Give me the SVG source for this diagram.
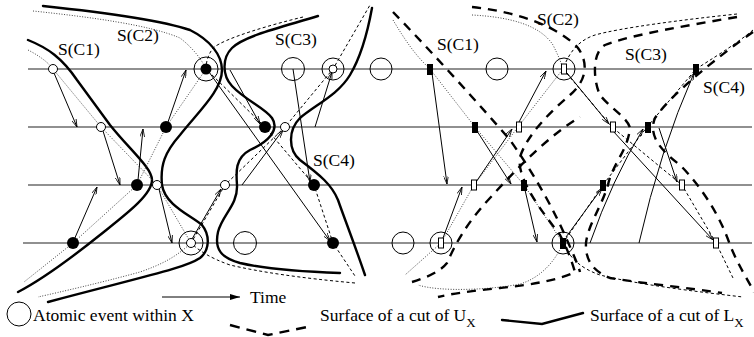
<svg xmlns="http://www.w3.org/2000/svg" width="754" height="337" viewBox="0 0 754 337">
<defs>
<marker id="ah" viewBox="0 0 10 6" refX="10" refY="3" markerWidth="8" markerHeight="5" markerUnits="userSpaceOnUse" orient="auto">
<path d="M0,0 L10,3 L0,6" fill="none" stroke="#000" stroke-width="1"/>
</marker>
<marker id="ahf" viewBox="0 0 10 6" refX="10" refY="3" markerWidth="10" markerHeight="6" markerUnits="userSpaceOnUse" orient="auto">
<path d="M0,0 L10,3 L0,6 Z" fill="#000"/>
</marker>
</defs>
<style>
.t{font-family:"Liberation Serif","Times New Roman",serif;font-size:17.5px;fill:#000}
.st{font-family:"Liberation Serif","Times New Roman",serif;font-size:13px;fill:#000}
.h{stroke:#222;stroke-width:1.2;fill:none}
.ar{stroke:#000;stroke-width:1;fill:none;marker-end:url(#ah)}
.dot{stroke:#444;stroke-width:1;fill:none;stroke-dasharray:1 1.6}
.sd{stroke:#000;stroke-width:1;fill:none;stroke-dasharray:3 2.5}
.ts{stroke:#000;stroke-width:2.4;fill:none;stroke-linecap:round}
.td{stroke:#000;stroke-width:2.4;fill:none;stroke-dasharray:9 7}
.oc{fill:#fff;stroke:#000;stroke-width:1}
.bc{fill:none;stroke:#000;stroke-width:1}
.fc{fill:#000}
.or{fill:#fff;stroke:#000;stroke-width:1}
</style>
<rect width="754" height="337" fill="#fff"/>
<g id="timelines">
<line class="h" x1="28" y1="69" x2="752" y2="69"/>
<line class="h" x1="28" y1="127" x2="752" y2="127"/>
<line class="h" x1="28" y1="185" x2="752" y2="185"/>
<line class="h" x1="23" y1="243" x2="752" y2="243"/>
</g>
<g id="surfaces">
<path class="ts" d="M28,40 C48,48 62,58 77,80 L110,125 C130,150 152,168 152,180 C152,195 125,215 100,235 C75,255 45,278 18,292"/>
<path class="ts" d="M43,6 C100,12 160,20 190,30 C210,40 222,55 222,70 C222,90 200,110 180,135 C165,152 160,165 162,185 C165,205 190,215 202,225 C210,235 210,250 200,258 C185,268 150,275 48,302"/>
<path class="ts" d="M318,16 C290,25 245,35 232,48 C222,58 222,75 232,86 C245,100 265,108 272,118 C280,130 268,142 250,150 C235,158 236,172 237,185 C238,205 222,215 218,232 C214,250 222,258 240,263 C270,270 310,272 340,273"/>
<path class="ts" d="M372,8 C368,30 362,55 350,75 C338,95 315,105 300,118 C288,130 288,150 300,160 C320,175 332,185 338,200 C345,220 353,240 365,275"/>
<path class="dot" d="M28,50 C38,55 48,62 53,69 L101,127 L157,185 L191,243 C175,258 160,265 140,272 C100,283 60,292 38,297"/>
<path class="dot" d="M33,11 C90,17 150,25 180,38 C193,48 202,60 206,69 L166,127 L137,185 L73,243 L24,282"/>
<path class="sd" d="M303,17 C270,25 225,38 213,48 C208,55 206,62 206,69 L265,127 L314,185 L333,243 L355,276"/>
<path class="sd" d="M355,283 C300,278 260,272 230,265 C210,258 198,250 191,243 L225,185 L285,127 L333,69 L370,5"/>
<path class="dot" d="M393,20 C405,40 415,55 430,69 L475,127 L524,185 L563,243 C555,262 540,278 520,284 C490,290 440,292 418,285"/>
<path class="dot" d="M472,15 C510,17 540,25 553,45 C558,55 561,62 563,69 L518,127 L474,185 L441,243 L405,275"/>
<path class="sd" d="M737,14 C680,20 620,28 595,35 C580,40 570,50 563,69 L612,127 L682,185 L716,243 L733,278"/>
<path class="sd" d="M753,30 C735,45 710,60 696,69 L647,127 L603,185 L563,243 C570,258 580,268 600,275 C640,285 700,292 743,297"/>
<path class="td" d="M393,12 C430,50 480,105 510,140 C535,175 555,212 567,240 C575,258 578,265 580,272"/>
<path class="td" d="M472,7 C520,12 560,28 578,48 C590,65 585,82 570,95 C550,112 527,135 520,157 C516,180 545,215 560,235 C568,250 572,262 575,272 C560,280 530,285 500,288 C470,291 450,294 438,297"/>
<path class="td" d="M412,282 C425,278 440,272 447,263 C455,245 465,225 490,198 C520,165 550,135 580,117"/>
<path class="td" d="M737,17 C690,25 630,35 605,45 C592,52 593,80 600,95 C610,108 628,118 630,128 C628,150 612,165 608,185 C600,210 588,225 586,243 C585,262 595,272 610,278 C640,283 690,288 722,293"/>
<path class="td" d="M753,32 C720,55 670,95 655,118 C648,135 660,150 680,165 C700,185 720,215 730,245 C738,265 748,280 754,292"/>
</g>
<g id="connectors">
<line class="ar" x1="54" y1="73" x2="77" y2="127"/>
<line class="ar" x1="74" y1="240" x2="97" y2="187"/>
<line class="ar" x1="103" y1="131" x2="120" y2="185"/>
<line class="ar" x1="138" y1="180" x2="143" y2="129"/>
<line class="ar" x1="168" y1="122" x2="186" y2="70"/>
<line class="ar" x1="159" y1="189" x2="172" y2="243"/>
<line class="ar" x1="209" y1="72" x2="330" y2="241"/>
<line class="ar" x1="230" y1="70" x2="260" y2="124"/>
<line class="ar" x1="192" y1="239" x2="221" y2="189"/>
<line class="ar" x1="242" y1="185" x2="283" y2="130"/>
<line class="ar" x1="293" y1="69" x2="310" y2="182"/>
<line class="ar" x1="315" y1="127" x2="332" y2="72"/>
<line class="ar" x1="432" y1="73" x2="447" y2="184"/>
<line class="ar" x1="443" y1="238" x2="462" y2="187"/>
<line class="ar" x1="476" y1="182" x2="512" y2="129"/>
<line class="ar" x1="519" y1="122" x2="546" y2="71"/>
<line class="ar" x1="477" y1="131" x2="511" y2="184"/>
<line class="ar" x1="525" y1="190" x2="537" y2="242"/>
<line class="ar" x1="567" y1="73" x2="609" y2="124"/>
<line class="ar" x1="566" y1="237" x2="602" y2="188"/>
<path class="ar" d="M590,243 Q612,180 643,129"/>
<path class="ar" d="M639,243 Q660,150 694,73"/>
<line class="ar" x1="613" y1="131" x2="713" y2="240"/>
<line class="ar" x1="659" y1="128" x2="677" y2="182"/>
</g>
<g id="e-l1a"><circle class="oc" cx="53" cy="69" r="4.5"/></g>
<g id="e-l1b"><circle class="bc" cx="206" cy="69" r="12"/><circle class="fc" cx="206" cy="69" r="5.5"/></g>
<g id="e-l1c"><circle class="bc" cx="293" cy="69" r="11.5"/></g>
<g id="e-l1d"><circle class="bc" cx="333" cy="69" r="11"/><circle class="oc" cx="333" cy="69" r="4"/></g>
<g id="e-l1e"><circle class="bc" cx="381" cy="69" r="11"/></g>
<g id="e-l2a"><circle class="oc" cx="101" cy="127" r="4.5"/></g>
<g id="e-l2b"><circle class="fc" cx="166" cy="127" r="6"/></g>
<g id="e-l2c"><circle class="fc" cx="265" cy="127" r="6"/></g>
<g id="e-l2d"><circle class="oc" cx="285" cy="127" r="4.5"/></g>
<g id="e-l3a"><circle class="fc" cx="137" cy="185" r="6"/></g>
<g id="e-l3b"><circle class="oc" cx="157" cy="185" r="4.5"/></g>
<g id="e-l3c"><circle class="oc" cx="225" cy="185" r="4.5"/></g>
<g id="e-l3d"><circle class="fc" cx="314" cy="185" r="6"/></g>
<g id="e-l4a"><circle class="fc" cx="73" cy="243" r="6"/></g>
<g id="e-l4b"><circle class="bc" cx="191" cy="243" r="12"/><circle class="oc" cx="191" cy="243" r="4.5"/></g>
<g id="e-l4c"><circle class="bc" cx="245" cy="243" r="11.5"/></g>
<g id="e-l4d"><circle class="fc" cx="333" cy="243" r="6"/></g>
<g id="e-r1a"><circle class="bc" cx="497" cy="69" r="11"/></g>
<g id="e-r1b"><rect class="fc" x="427" y="64" width="6" height="11"/></g>
<g id="e-r1c"><circle class="bc" cx="564" cy="69" r="11"/><rect class="or" x="561.5" y="64" width="5" height="10"/></g>
<g id="e-r1d"><rect class="fc" x="693" y="64" width="6" height="11"/></g>
<g id="e-r2a"><rect class="fc" x="472" y="122" width="6" height="11"/></g>
<g id="e-r2b"><rect class="or" x="516.5" y="122" width="5" height="10"/></g>
<g id="e-r2c"><rect class="or" x="610.5" y="122" width="5" height="10"/></g>
<g id="e-r2d"><rect class="fc" x="645" y="122" width="6" height="11"/></g>
<g id="e-r3a"><rect class="or" x="471.5" y="180" width="5" height="10"/></g>
<g id="e-r3b"><rect class="fc" x="521" y="180" width="6" height="11"/></g>
<g id="e-r3c"><rect class="fc" x="600" y="180" width="6" height="11"/></g>
<g id="e-r3d"><rect class="or" x="679.5" y="180" width="5" height="10"/></g>
<g id="e-r4a"><circle class="bc" cx="403" cy="243" r="11"/></g>
<g id="e-r4b"><circle class="bc" cx="441" cy="243" r="11"/><rect class="or" x="438.5" y="238" width="5" height="10"/></g>
<g id="e-r4c"><circle class="bc" cx="563" cy="243" r="11"/><rect class="fc" x="560" y="238" width="6" height="11"/></g>
<g id="e-r4d"><rect class="or" x="713.5" y="238" width="5" height="10"/></g>
<g id="labels">
<text class="t" x="58" y="55">S(C1)</text>
<text class="t" x="117" y="41">S(C2)</text>
<text class="t" x="275" y="45">S(C3)</text>
<text class="t" x="313" y="166">S(C4)</text>
<text class="t" x="437" y="50">S(C1)</text>
<text class="t" x="537" y="25">S(C2)</text>
<text class="t" x="625" y="60">S(C3)</text>
<text class="t" x="703" y="93">S(C4)</text>
</g>
<g id="legend">
<line class="ar" x1="162" y1="297" x2="240" y2="297" style="marker-end:url(#ahf)"/>
<text class="t" x="250" y="303">Time</text>
<circle class="bc" cx="19" cy="314" r="12"/>
<text class="t" x="33" y="321">Atomic event within X</text>
<path class="td" d="M230,325 L268,335 L307,327" style="stroke-dasharray:10 7"/>
<text class="t" x="320" y="321">Surface of a cut of U<tspan class="st" dy="6">X</tspan></text>
<path class="ts" d="M502,320 L542,324 L583,313"/>
<text class="t" x="590" y="321">Surface of a cut of L<tspan class="st" dy="6">X</tspan></text>
</g>
</svg>
